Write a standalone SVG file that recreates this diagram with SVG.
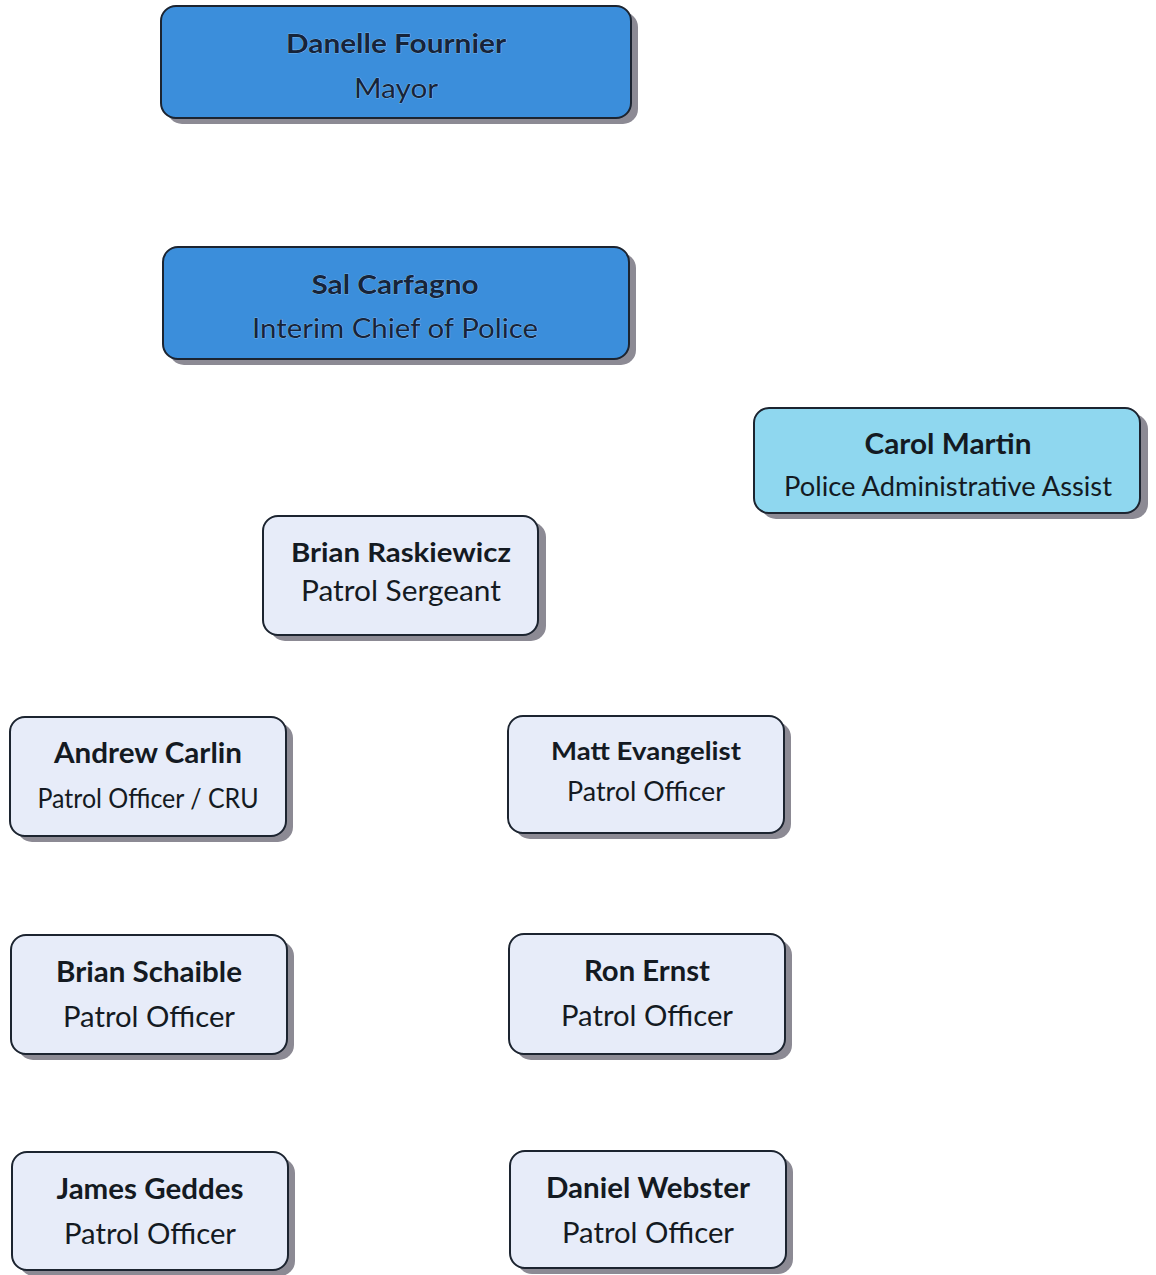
<svg xmlns="http://www.w3.org/2000/svg" width="1156" height="1275" viewBox="0 0 1156 1275">
<style>
.sh{fill:#8c8a94;}
.box{stroke:#1c2430;stroke-width:2;}
.blue{fill:#3b8edb;}
.cyan{fill:#8fd7ef;}
.light{fill:#e7ecf9;}
text{font-family:Lato,"Open Sans","Noto Sans",sans-serif;fill:#141a22;text-anchor:middle;}
.b{font-weight:bold;}
.emb{fill:#16243a;stroke:#a9d2f5;stroke-width:0.6;paint-order:stroke;}
</style>
<rect width="1156" height="1275" fill="#ffffff"/>
<g id="connectors"></g>
<g id="mayor">
<rect class="sh" x="167" y="12" width="471" height="112" rx="15"/>
<rect class="box blue" x="161" y="6" width="470" height="112" rx="15"/>
<text class="b emb" x="396" y="53" font-size="27" textLength="220" lengthAdjust="spacingAndGlyphs">Danelle Fournier</text>
<text class="emb" x="396" y="98" font-size="27" textLength="84" lengthAdjust="spacingAndGlyphs">Mayor</text>
</g>
<g id="chief">
<rect class="sh" x="169" y="253" width="467" height="112" rx="15"/>
<rect class="box blue" x="163" y="247" width="466" height="112" rx="15"/>
<text class="b emb" x="395" y="294" font-size="27" textLength="167" lengthAdjust="spacingAndGlyphs">Sal Carfagno</text>
<text class="emb" x="395" y="338" font-size="27" textLength="286" lengthAdjust="spacingAndGlyphs">Interim Chief of Police</text>
</g>
<g id="carol">
<rect class="sh" x="761" y="414" width="387" height="105" rx="15"/>
<rect class="box cyan" x="754" y="408" width="386" height="105" rx="15"/>
<text class="b" x="948" y="454" font-size="28" textLength="167" lengthAdjust="spacingAndGlyphs">Carol Martin</text>
<text x="948" y="496" font-size="26" textLength="328" lengthAdjust="spacingAndGlyphs">Police Administrative Assist</text>
</g>
<g id="sergeant">
<rect class="sh" x="270" y="522" width="276" height="119" rx="15"/>
<rect class="box light" x="263" y="516" width="275" height="119" rx="15"/>
<text class="b" x="401" y="562" font-size="27" textLength="220" lengthAdjust="spacingAndGlyphs">Brian Raskiewicz</text>
<text x="401" y="601" font-size="28" textLength="200" lengthAdjust="spacingAndGlyphs">Patrol Sergeant</text>
</g>
<g id="carlin">
<rect class="sh" x="17" y="723" width="276" height="119" rx="15"/>
<rect class="box light" x="10" y="717" width="276" height="119" rx="15"/>
<text class="b" x="148" y="763" font-size="28" textLength="188" lengthAdjust="spacingAndGlyphs">Andrew Carlin</text>
<text x="148" y="808" font-size="26" textLength="221" lengthAdjust="spacingAndGlyphs">Patrol Officer / CRU</text>
</g>
<g id="evangelist">
<rect class="sh" x="515" y="722" width="276" height="117" rx="15"/>
<rect class="box light" x="508" y="716" width="276" height="117" rx="15"/>
<text class="b" x="646" y="760" font-size="25" textLength="190" lengthAdjust="spacingAndGlyphs">Matt Evangelist</text>
<text x="646" y="801" font-size="26" textLength="158" lengthAdjust="spacingAndGlyphs">Patrol Officer</text>
</g>
<g id="schaible">
<rect class="sh" x="18" y="941" width="276" height="119" rx="15"/>
<rect class="box light" x="11" y="935" width="276" height="119" rx="15"/>
<text class="b" x="149" y="982" font-size="28" textLength="186" lengthAdjust="spacingAndGlyphs">Brian Schaible</text>
<text x="149" y="1027" font-size="28" textLength="172" lengthAdjust="spacingAndGlyphs">Patrol Officer</text>
</g>
<g id="ernst">
<rect class="sh" x="516" y="940" width="276" height="120" rx="15"/>
<rect class="box light" x="509" y="934" width="276" height="120" rx="15"/>
<text class="b" x="647" y="981" font-size="28" textLength="126" lengthAdjust="spacingAndGlyphs">Ron Ernst</text>
<text x="647" y="1026" font-size="28" textLength="172" lengthAdjust="spacingAndGlyphs">Patrol Officer</text>
</g>
<g id="geddes">
<rect class="sh" x="19" y="1158" width="276" height="118" rx="15"/>
<rect class="box light" x="12" y="1152" width="276" height="118" rx="15"/>
<text class="b" x="150" y="1199" font-size="28" textLength="187" lengthAdjust="spacingAndGlyphs">James Geddes</text>
<text x="150" y="1244" font-size="28" textLength="172" lengthAdjust="spacingAndGlyphs">Patrol Officer</text>
</g>
<g id="webster">
<rect class="sh" x="517" y="1157" width="276" height="117" rx="15"/>
<rect class="box light" x="510" y="1151" width="276" height="117" rx="15"/>
<text class="b" x="648" y="1198" font-size="28" textLength="204" lengthAdjust="spacingAndGlyphs">Daniel Webster</text>
<text x="648" y="1243" font-size="28" textLength="172" lengthAdjust="spacingAndGlyphs">Patrol Officer</text>
</g>
</svg>
